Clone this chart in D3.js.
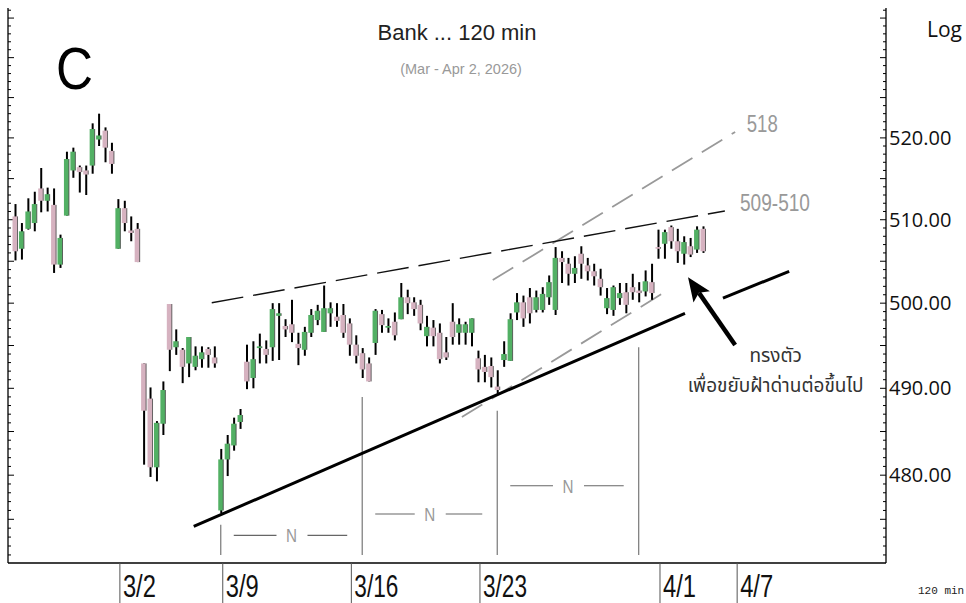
<!DOCTYPE html>
<html>
<head>
<meta charset="utf-8">
<script src="https://cdn.jsdelivr.net/npm/d3@7"></script>
<style>
  html, body { margin: 0; padding: 0; background: #fff; }
  svg { display: block; }
</style>
</head>
<body>
<svg id="chart" width="966" height="603"></svg>
<script>
// 120-min bars, index 0 = first bar on screen
const opens = [
  510.4, 506.5, 508.9, 509.6, 513.8, 512.3, 511.8, 504.6, 510.5, 516.0,
  516.4, 516.0, 516.6, 519.8, 520.9, 518.4, 506.5, 511.4, 508.7, 508.9,
  492.9, 488.8, 480.9, 485.9, 499.9, 494.8, 494.5, 492.9, 492.5, 493.4,
  494.6, 493.6, 476.0, 481.8, 483.4, 486.1, 493.1, 491.2, 494.7, 494.6,
  494.8, 498.5, 497.3, 497.5, 495.2, 494.5, 496.5, 498.0, 496.6, 498.8,
  498.4, 498.6, 497.6, 495.1, 494.1, 492.9, 495.3, 498.7, 497.1, 497.8,
  498.1, 500.7, 500.1, 499.8, 496.1, 497.1, 496.5, 494.2, 497.8, 496.5,
  496.5, 496.5, 493.5, 492.5, 492.6, 490.2, 493.3, 493.2, 498.9, 500.1,
  500.7, 499.2, 499.2, 500.7, 499.2, 505.4, 504.7, 503.5, 505.9, 504.5,
  503.8, 502.9, 499.4, 499.2, 500.6, 501.3, 501.9, 501.5, 501.4, 502.5,
  506.7, 507.1, 509.1, 507.4, 505.9, 506.8, 506.4, 508.9
];
const highs = [
  511.9, 509.6, 512.6, 513.4, 516.3, 513.9, 513.8, 508.2, 518.3, 518.8,
  516.6, 516.6, 521.8, 523.0, 521.3, 519.4, 512.5, 512.3, 510.4, 509.6,
  492.9, 490.1, 486.2, 490.8, 499.9, 496.9, 494.7, 496.0, 494.9, 494.9,
  494.8, 494.9, 483.0, 484.6, 486.6, 487.6, 495.1, 495.5, 496.4, 495.6,
  500.0, 500.0, 498.1, 500.4, 496.5, 497.2, 499.3, 499.8, 502.1, 500.1,
  500.0, 499.9, 498.2, 496.2, 494.7, 493.6, 499.3, 499.2, 498.2, 498.9,
  502.4, 501.6, 500.7, 500.4, 498.5, 498.0, 497.6, 496.0, 500.0, 498.2,
  497.8, 498.2, 494.4, 493.9, 493.6, 492.1, 495.5, 498.8, 501.2, 500.9,
  501.8, 501.5, 501.9, 503.3, 506.7, 506.2, 505.4, 505.6, 506.8, 505.4,
  504.7, 504.1, 501.8, 502.1, 502.4, 502.4, 503.5, 502.5, 503.9, 504.7,
  508.8, 508.8, 509.3, 508.9, 508.0, 507.8, 509.2, 509.2
];
const lows = [
  505.1, 505.2, 508.8, 508.6, 510.9, 511.0, 503.6, 504.2, 510.5, 515.1,
  513.3, 513.0, 515.6, 519.0, 517.0, 515.6, 506.5, 508.6, 507.4, 504.9,
  481.2, 479.8, 479.3, 484.6, 492.0, 493.9, 490.6, 491.3, 492.1, 492.4,
  492.4, 492.4, 475.7, 479.9, 482.8, 485.3, 489.9, 490.0, 492.9, 492.9,
  493.2, 493.3, 496.0, 495.4, 492.7, 493.8, 496.0, 497.4, 496.6, 497.2,
  497.2, 495.9, 493.8, 492.9, 491.2, 490.8, 493.9, 496.5, 496.5, 495.6,
  498.1, 498.7, 498.5, 496.8, 494.9, 494.9, 492.9, 493.3, 495.1, 495.1,
  495.1, 494.9, 490.7, 490.7, 490.1, 489.4, 492.5, 493.2, 498.0, 497.2,
  497.6, 498.9, 498.9, 499.8, 498.6, 502.4, 502.1, 502.4, 502.9, 502.7,
  502.1, 500.9, 498.7, 498.5, 499.8, 498.8, 500.4, 500.1, 500.8, 500.4,
  505.3, 505.3, 506.5, 504.8, 504.6, 505.5, 506.0, 506.0
];
const closes = [
  506.2, 508.6, 511.0, 511.9, 512.3, 513.1, 504.6, 507.8, 517.4, 518.3,
  515.8, 515.5, 521.1, 520.3, 518.8, 516.8, 511.4, 509.6, 508.4, 504.9,
  487.4, 480.9, 486.0, 489.8, 494.5, 495.5, 492.5, 496.0, 493.8, 494.2,
  493.9, 492.9, 481.8, 483.6, 485.9, 486.9, 490.8, 493.4, 494.9, 493.9,
  499.3, 498.8, 496.9, 496.5, 494.7, 496.6, 498.6, 499.1, 499.4, 499.4,
  497.9, 496.5, 495.1, 493.8, 492.2, 490.8, 499.1, 497.4, 497.3, 496.2,
  500.7, 500.0, 499.3, 497.6, 497.2, 496.1, 493.4, 493.6, 496.0, 497.5,
  497.5, 498.2, 492.2, 491.9, 491.3, 489.8, 494.0, 498.1, 500.1, 498.2,
  498.8, 500.7, 501.1, 502.5, 505.4, 504.9, 503.5, 504.2, 504.7, 503.8,
  503.2, 501.9, 500.6, 501.9, 501.2, 499.8, 501.3, 501.2, 502.6, 501.2,
  506.5, 508.5, 507.4, 506.2, 507.3, 505.8, 508.8, 506.2
];

const dayIndex = [16, 32, 52, 72, 100, 112];
const dayLabels = ["3/2", "3/9", "3/16", "3/23", "4/1", "4/7"];
const priceTicks = [480, 490, 500, 510, 520];

// support trend (drawn in two pieces), resistance, and channel
const supportLines = [
  [[27.8, 474.2], [104.2, 498.8]],
  [[110.1, 500.6], [120.4, 503.8]]
];
const resistanceLine = [[30.6, 500.05], [110.4, 511.06]];
const channelLines = [
  [[74.3, 502.75], [112.0, 520.73]],
  [[69.5, 486.67], [100.8, 501.2]]
];
const arrowFrom = [112.0, 495.06];
const arrowTo = [104.67, 503.1];

// cycle markers "N"
const cycleIndex = [32, 54, 75, 97];
const cycleTop = [474.4, 489.0, 487.4, 494.8];
const cycleBottom = 471.0;
const cycleRowPrice = [473.2, 475.6, 478.8];

const svg = d3.select("#chart");
const plotLeft = 8, plotRight = 886, plotTop = 8, plotBottom = 563;

const x = d3.scaleLinear().domain([0, 107]).range([15, 703]);
const y = d3.scaleLog().domain([470.1, 537.3]).range([plotBottom, 0]);

const line = d3.line().x((d) => x(d[0])).y((d) => y(d[1]));

// frame + axes
svg.append("line").attr("x1", plotLeft).attr("x2", plotLeft).attr("y1", plotTop).attr("y2", plotBottom)
  .attr("stroke", "#000").attr("stroke-width", 1.3);
svg.append("line").attr("x1", plotRight).attr("x2", plotRight).attr("y1", plotTop).attr("y2", plotBottom)
  .attr("stroke", "#000").attr("stroke-width", 1.3);
svg.append("line").attr("x1", plotLeft).attr("x2", plotRight).attr("y1", plotBottom).attr("y2", plotBottom)
  .attr("stroke", "#000").attr("stroke-width", 1.3);

const minorTicks = d3.range(471, 537).filter((p) => y(p) >= plotTop + 2);
svg.append("g").selectAll("line").data(minorTicks).join("line")
  .attr("x1", plotLeft).attr("x2", (p) => plotLeft + (p % 5 === 0 ? 6 : 3))
  .attr("y1", (p) => y(p)).attr("y2", (p) => y(p))
  .attr("stroke", "#000").attr("stroke-width", 1);
svg.append("g").selectAll("line").data(minorTicks).join("line")
  .attr("x1", plotRight).attr("x2", (p) => plotRight - (p % 5 === 0 ? 6 : 3))
  .attr("y1", (p) => y(p)).attr("y2", (p) => y(p))
  .attr("stroke", "#000").attr("stroke-width", 1);

svg.append("g").selectAll("text").data(priceTicks).join("text")
  .attr("x", plotRight + 3).attr("y", (p) => y(p) + 7)
  .attr("font-family", "Open Sans, sans-serif").attr("font-size", 20)
  .attr("fill", "#111")
  .text((p) => p.toFixed(2));

// date separators below the axis
svg.append("g").selectAll("line").data(dayIndex).join("line")
  .attr("x1", (i) => x(i) + 2).attr("x2", (i) => x(i) + 2)
  .attr("y1", plotBottom).attr("y2", 603)
  .attr("stroke", "#555").attr("stroke-width", 1);
svg.append("g").selectAll("text").data(dayLabels).join("text")
  .attr("x", (d, k) => x(dayIndex[k]) + 5).attr("y", 597)
  .attr("font-family", "Liberation Sans, Arial, sans-serif").attr("font-size", 31)
  .attr("textLength", (d) => d.length * 11)
  .attr("lengthAdjust", "spacingAndGlyphs")
  .attr("fill", "#111")
  .text((d) => d);

// cycle markers
svg.append("g").selectAll("line").data(cycleIndex).join("line")
  .attr("x1", (i) => x(i)).attr("x2", (i) => x(i))
  .attr("y1", (i, k) => y(cycleTop[k])).attr("y2", y(cycleBottom))
  .attr("stroke", "#777").attr("stroke-width", 1.2);
const rows = svg.append("g").selectAll("g").data(cycleRowPrice).join("g");
rows.each(function (p, k) {
  const g = d3.select(this);
  const a = x(cycleIndex[k]), b = x(cycleIndex[k + 1]), m = (a + b) / 2, yy = y(p);
  g.append("line").attr("x1", a + 13).attr("x2", m - 15).attr("y1", yy).attr("y2", yy)
    .attr("stroke", "#666").attr("stroke-width", 1.2);
  g.append("line").attr("x1", m + 16).attr("x2", b - 15).attr("y1", yy).attr("y2", yy)
    .attr("stroke", "#666").attr("stroke-width", 1.2);
  g.append("text").attr("x", m).attr("y", yy + 7).attr("text-anchor", "middle")
    .attr("font-family", "Liberation Sans, Arial, sans-serif").attr("font-size", 19)
    .attr("textLength", 11).attr("lengthAdjust", "spacingAndGlyphs")
    .attr("fill", "#999").text("N");
});

// channel (gray dashed)
svg.append("g").selectAll("path").data(channelLines).join("path")
  .attr("d", line).attr("fill", "none")
  .attr("stroke", "#999").attr("stroke-width", 1.8).attr("stroke-dasharray", "24,11");

// resistance (black dashed)
svg.append("path").attr("d", line(resistanceLine)).attr("fill", "none")
  .attr("stroke", "#111").attr("stroke-width", 1.4).attr("stroke-dasharray", "32,10");

// support
svg.append("g").selectAll("path").data(supportLines).join("path")
  .attr("d", line).attr("fill", "none")
  .attr("stroke", "#000").attr("stroke-width", 3);

// candles
const bars = d3.range(opens.length).map((i) => ({
  i, o: opens[i], h: highs[i], l: lows[i], c: closes[i]
}));
const candle = svg.append("g").selectAll("g").data(bars).join("g");
candle.append("line")
  .attr("x1", (d) => x(d.i) + 0.5).attr("x2", (d) => x(d.i) + 0.5)
  .attr("y1", (d) => y(d.h)).attr("y2", (d) => y(d.l))
  .attr("stroke", "#000").attr("stroke-width", 2);
candle.append("rect")
  .attr("x", (d) => x(d.i) - 2.5)
  .attr("width", 5)
  .attr("y", (d) => y(Math.max(d.o, d.c)))
  .attr("height", (d) => Math.max(1.5, Math.abs(y(d.o) - y(d.c))))
  .attr("fill", (d) => (d.c >= d.o ? "#52b064" : "#d6b2c0"));
candle.append("line")
  .attr("x1", (d) => x(d.i) + 2.5).attr("x2", (d) => x(d.i) + 2.5)
  .attr("y1", (d) => y(Math.max(d.o, d.c))).attr("y2", (d) => y(Math.min(d.o, d.c)))
  .attr("stroke", "#444").attr("stroke-width", 0.8);

// arrow
const ax0 = x(arrowFrom[0]), ay0 = y(arrowFrom[1]);
const ax1 = x(arrowTo[0]), ay1 = y(arrowTo[1]);
const len = Math.hypot(ax1 - ax0, ay1 - ay0);
const ux = (ax1 - ax0) / len, uy = (ay1 - ay0) / len;
const headLen = 24, headW = 10;
svg.append("line").attr("x1", ax0).attr("y1", ay0)
  .attr("x2", ax1 - ux * headLen * 0.8).attr("y2", ay1 - uy * headLen * 0.8)
  .attr("stroke", "#000").attr("stroke-width", 4.5);
const bx = ax1 - ux * headLen, by = ay1 - uy * headLen;
svg.append("path")
  .attr("d", `M${ax1},${ay1}L${bx - uy * headW},${by + ux * headW}L${bx + ux * 5},${by + uy * 5}L${bx + uy * headW},${by - ux * headW}Z`)
  .attr("fill", "#000");

// annotation texts
svg.append("text").attr("x", x(113.8)).attr("y", y(520.7))
  .attr("font-family", "Liberation Sans, Arial, sans-serif").attr("font-size", 23)
  .attr("textLength", 31).attr("lengthAdjust", "spacingAndGlyphs")
  .attr("fill", "#999").text("518");
svg.append("text").attr("x", x(112.75)).attr("y", y(511.06))
  .attr("font-family", "Liberation Sans, Arial, sans-serif").attr("font-size", 23)
  .attr("textLength", 70).attr("lengthAdjust", "spacingAndGlyphs")
  .attr("fill", "#999").text("509-510");
svg.append("text").attr("x", x(118.3)).attr("y", y(493.06)).attr("text-anchor", "middle")
  .attr("font-family", "Noto Sans Thai, Tahoma, DejaVu Sans, sans-serif").attr("font-size", 19)
  .attr("fill", "#333").text("ทรงตัว");
svg.append("text").attr("x", x(118.3)).attr("y", y(489.57)).attr("text-anchor", "middle")
  .attr("font-family", "Noto Sans Thai, Tahoma, DejaVu Sans, sans-serif").attr("font-size", 19)
  .attr("fill", "#333").text("เพื่อขยับฝ้าด่านต่อขึ้นไป");

// titles and corner labels
svg.append("text").attr("x", 457).attr("y", 40).attr("text-anchor", "middle")
  .attr("font-family", "Liberation Sans, Arial, sans-serif").attr("font-size", 22)
  .attr("fill", "#222").text("Bank ... 120 min");
svg.append("text").attr("x", 461).attr("y", 74).attr("text-anchor", "middle")
  .attr("font-family", "Liberation Sans, Arial, sans-serif").attr("font-size", 14.5)
  .attr("fill", "#999").text("(Mar - Apr 2, 2026)");
svg.append("text").attr("x", 56).attr("y", 89)
  .attr("font-family", "Liberation Sans, Arial, sans-serif").attr("font-size", 60)
  .attr("textLength", 37).attr("lengthAdjust", "spacingAndGlyphs")
  .attr("fill", "#000").text("C");
svg.append("text").attr("x", 927).attr("y", 37)
  .attr("font-family", "Open Sans, sans-serif").attr("font-size", 21)
  .attr("fill", "#111").text("Log");
svg.append("text").attr("x", 918).attr("y", 594)
  .attr("font-family", "Liberation Mono, monospace").attr("font-size", 11)
  .attr("fill", "#222").text("120 min");
</script>
</body>
</html>
